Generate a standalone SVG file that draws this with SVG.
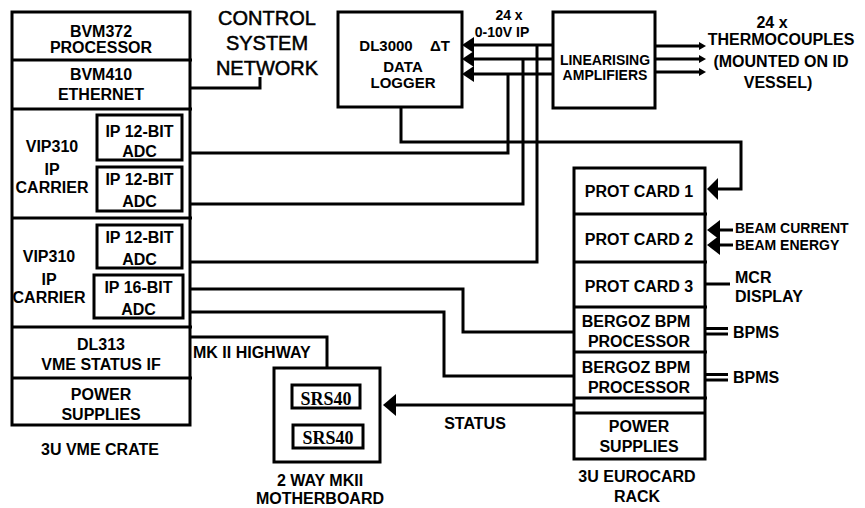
<svg xmlns="http://www.w3.org/2000/svg" width="865" height="508" viewBox="0 0 865 508">
<style>
.box{fill:#fff;stroke:#000;stroke-width:3}
.ln{fill:none;stroke:#000;stroke-width:3}
.ah{fill:#000;stroke:none}
text{font-family:"Liberation Sans",Arial,sans-serif;font-weight:bold;font-size:16px;text-anchor:middle;fill:#000}
.s{font-size:14px}
.m{font-size:15px}
.b{font-size:14px}
.st{text-anchor:start}
.cn{font-weight:normal;font-size:20px;stroke:#000;stroke-width:0.5}
.sr{font-family:"Liberation Serif","Times New Roman",serif;font-size:18px}
</style>
<rect width="865" height="508" fill="#fff"/>
<g id="connectors">
  <polyline class="ln" points="190,88 260,88 260,77"/>
  <line class="ln" x1="472" y1="45" x2="553" y2="45"/>
  <line class="ln" x1="472" y1="59" x2="553" y2="59"/>
  <line class="ln" x1="472" y1="74" x2="553" y2="74"/>
  <polygon class="ah" points="462,45 474,37 474,53"/>
  <polygon class="ah" points="462,59 474,51 474,67"/>
  <polygon class="ah" points="462,74 474,66 474,82"/>
  <polyline class="ln" points="190,153 508,153 508,74"/>
  <polyline class="ln" points="190,204 523,204 523,59"/>
  <polyline class="ln" points="190,262 537,262 537,45"/>
  <polyline class="ln" points="401,107 401,142 741,142 741,189 716,189"/>
  <polygon class="ah" points="707,189 718,178 718,200"/>
  <line class="ln" x1="655" y1="46" x2="700" y2="46"/>
  <line class="ln" x1="655" y1="59" x2="700" y2="59"/>
  <line class="ln" x1="655" y1="72" x2="700" y2="72"/>
  <polygon class="ah" points="699,42 706,46 699,50"/>
  <polygon class="ah" points="699,55 706,59 699,63"/>
  <polygon class="ah" points="699,68 706,72 699,76"/>
  <line class="ln" x1="718" y1="230" x2="733" y2="230"/>
  <line class="ln" x1="718" y1="245" x2="733" y2="245"/>
  <polygon class="ah" points="707,230 720,220 720,240"/>
  <polygon class="ah" points="707,245 720,235 720,255"/>
  <line class="ln" x1="705" y1="284" x2="730" y2="284"/>
  <line class="ln" x1="705" y1="328.5" x2="728" y2="328.5"/>
  <line class="ln" x1="705" y1="334" x2="728" y2="334"/>
  <line class="ln" x1="705" y1="374.5" x2="728" y2="374.5"/>
  <line class="ln" x1="705" y1="380" x2="728" y2="380"/>
  <polyline class="ln" points="190,289 463,289 463,332 575,332"/>
  <polyline class="ln" points="190,312 444,312 444,376 575,376"/>
  <polyline class="ln" points="574,405 394,405"/>
  <polygon class="ah" points="383,405 396,394 396,416"/>
  <polyline class="ln" points="190,337 327,337 327,368"/>
</g>
<g id="vme-crate">
  <rect class="box" x="12" y="12" width="178" height="413"/>
  <line class="ln" x1="12" y1="60" x2="192" y2="60"/>
  <line class="ln" x1="12" y1="109" x2="192" y2="109"/>
  <line class="ln" x1="12" y1="218" x2="192" y2="218"/>
  <line class="ln" x1="12" y1="327" x2="192" y2="327"/>
  <line class="ln" x1="12" y1="378" x2="192" y2="378"/>
  <text x="101" y="37">BVM372</text>
  <text x="101" y="53">PROCESSOR</text>
  <text x="101" y="80">BVM410</text>
  <text x="101" y="100">ETHERNET</text>
  <text x="52" y="152">VIP310</text>
  <text x="52" y="175">IP</text>
  <text x="52" y="193">CARRIER</text>
  <text x="49" y="262">VIP310</text>
  <text x="49" y="285">IP</text>
  <text x="49" y="303">CARRIER</text>
  <text x="101" y="350">DL313</text>
  <text x="101" y="370">VME STATUS IF</text>
  <text x="101" y="400">POWER</text>
  <text x="101" y="420">SUPPLIES</text>
  <text x="100" y="455">3U VME CRATE</text>
</g>
<g id="adc1">
  <rect class="box" x="97" y="115" width="85" height="45"/>
  <text x="139.5" y="137">IP 12-BIT</text>
  <text x="139.5" y="157">ADC</text>
</g>
<g id="adc2">
  <rect class="box" x="97" y="167" width="85" height="44"/>
  <text x="139.5" y="185">IP 12-BIT</text>
  <text x="139.5" y="207">ADC</text>
</g>
<g id="adc3">
  <rect class="box" x="97" y="225" width="85" height="43"/>
  <text x="139.5" y="243">IP 12-BIT</text>
  <text x="139.5" y="265">ADC</text>
</g>
<g id="adc4">
  <rect class="box" x="94" y="275" width="89" height="43"/>
  <text x="138.5" y="293">IP 16-BIT</text>
  <text x="138.5" y="315">ADC</text>
</g>
<g id="network">
  <text class="cn" x="267" y="25">CONTROL</text>
  <text class="cn" x="267" y="50">SYSTEM</text>
  <text class="cn" x="267" y="75">NETWORK</text>
</g>
<g id="data-logger">
  <rect class="box" x="338" y="12" width="124" height="95"/>
  <text class="m" x="386" y="51">DL3000</text>
  <text class="m" x="440" y="51">ΔT</text>
  <text class="m" x="403" y="72">DATA</text>
  <text class="m" x="403" y="88">LOGGER</text>
</g>
<g id="ip-label">
  <text class="s" x="509" y="20">24 x</text>
  <text class="s" x="502" y="37">0-10V IP</text>
</g>
<g id="amplifiers">
  <rect class="box" x="553" y="12" width="102" height="96"/>
  <text class="s" x="605" y="65">LINEARISING</text>
  <text class="s" x="605" y="80">AMPLIFIERS</text>
</g>
<g id="thermocouples">
  <text x="772" y="28">24 x</text>
  <text x="781" y="45">THERMOCOUPLES</text>
  <text x="781" y="67">(MOUNTED ON ID</text>
  <text x="778" y="88">VESSEL)</text>
</g>
<g id="eurocard-rack">
  <rect class="box" x="574" y="168" width="131" height="291"/>
  <line class="ln" x1="574" y1="214" x2="707" y2="214"/>
  <line class="ln" x1="574" y1="262" x2="707" y2="262"/>
  <line class="ln" x1="574" y1="307" x2="707" y2="307"/>
  <line class="ln" x1="574" y1="352" x2="707" y2="352"/>
  <line class="ln" x1="574" y1="398" x2="707" y2="398"/>
  <line class="ln" x1="574" y1="413" x2="705" y2="413"/>
  <text x="639" y="197">PROT CARD 1</text>
  <text x="639" y="245">PROT CARD 2</text>
  <text x="639" y="292">PROT CARD 3</text>
  <text x="636" y="327">BERGOZ BPM</text>
  <text x="639" y="347">PROCESSOR</text>
  <text x="636" y="373">BERGOZ BPM</text>
  <text x="639" y="393">PROCESSOR</text>
  <text x="639" y="432">POWER</text>
  <text x="639" y="452">SUPPLIES</text>
  <text x="637" y="482">3U EUROCARD</text>
  <text x="637" y="502">RACK</text>
</g>
<g id="rack-labels">
  <text class="b st" x="735" y="233">BEAM CURRENT</text>
  <text class="b st" x="735" y="250">BEAM ENERGY</text>
  <text class="st" x="735" y="283">MCR</text>
  <text class="st" x="735" y="302">DISPLAY</text>
  <text class="st" x="733" y="338">BPMS</text>
  <text class="st" x="733" y="383">BPMS</text>
</g>
<g id="motherboard">
  <rect class="box" x="274" y="368" width="106" height="94"/>
  <rect class="box" x="292" y="385" width="68" height="23"/>
  <rect class="box" x="293" y="425" width="70" height="23"/>
  <text class="sr" x="326" y="405">SRS40</text>
  <text class="sr" x="328" y="444">SRS40</text>
  <text x="320" y="486">2 WAY MKII</text>
  <text x="320" y="504">MOTHERBOARD</text>
</g>
<g id="misc-labels">
  <text class="st" x="193" y="358">MK II HIGHWAY</text>
  <text x="475" y="429">STATUS</text>
</g>
</svg>
